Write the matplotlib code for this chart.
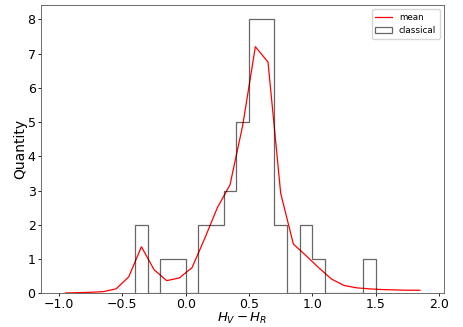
import matplotlib
matplotlib.use('Agg')
import matplotlib.pyplot as plt

# histogram of the classical values (bin edges and counts)
bin_edges = [-0.4, -0.3, -0.2, -0.1, 0.0, 0.1, 0.2, 0.3, 0.4, 0.5,
             0.6, 0.7, 0.8, 0.9, 1.0, 1.1, 1.2, 1.3, 1.4, 1.5]
counts = [2, 0, 1, 1, 0, 2, 2, 3, 5, 8, 8, 2, 0, 2, 1, 0, 0, 0, 1]

# mean curve, sampled at bin centres
mean_x = [-0.95, -0.85, -0.75, -0.65, -0.55, -0.45, -0.35, -0.25, -0.15, -0.05,
          0.05, 0.15, 0.25, 0.35, 0.45, 0.55, 0.65, 0.75, 0.85, 0.95,
          1.05, 1.15, 1.25, 1.35, 1.45, 1.55, 1.65, 1.75, 1.85]
mean_y = [0.01, 0.02, 0.03, 0.05, 0.13, 0.48, 1.36, 0.69, 0.37, 0.45,
          0.75, 1.6, 2.5, 3.17, 4.9, 7.2, 6.75, 2.92, 1.44, 1.1,
          0.75, 0.42, 0.23, 0.16, 0.13, 0.11, 0.1, 0.09, 0.09]

fig = plt.figure(figsize=(4.63, 3.27), dpi=100)
ax = fig.add_axes([0.088, 0.103, 0.871, 0.882])

ax.plot(mean_x, mean_y, color='red', lw=0.9, label='mean')
ax.hist(bin_edges[:-1], bins=bin_edges, weights=counts, histtype='step',
        color='k', alpha=0.6, lw=0.9, label='classical')

ax.set_xlim(-1.145, 2.04)
ax.set_ylim(0, 8.42)
ax.set_xticks([-1.0, -0.5, 0.0, 0.5, 1.0, 1.5, 2.0])
ax.set_yticks(range(9))
ax.tick_params(labelsize=9, length=2.5, width=0.6, pad=1.2)
for s in ax.spines.values():
    s.set_linewidth(0.6)
    s.set_color('#555555')

ax.set_xlabel('$H_V - H_R$', fontsize=9.5)
ax.xaxis.set_label_coords(0.5, -0.06)
ax.set_ylabel('Quantity', fontsize=10, labelpad=0.5)
ax.legend(loc='upper right', fontsize=6.3, handlelength=1.9)

fig.savefig('out.png', dpi=100)
